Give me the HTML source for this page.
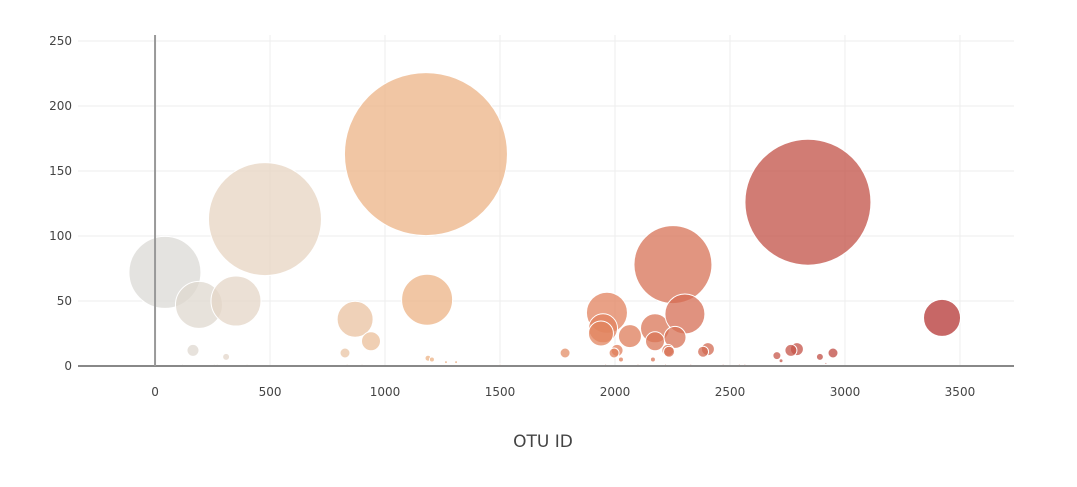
<!DOCTYPE html>
<html><head><meta charset="utf-8"><style>
body{margin:0;background:#fff;}
svg{display:block;font-family:"DejaVu Sans","Liberation Sans",sans-serif;}
</style></head><body>
<svg id="chart" width="1077" height="487">
<g id="grid"></g>
<g id="bubbles"></g>
<g id="axes"></g>
<text x="543" y="447" text-anchor="middle" font-size="17" fill="#444">OTU ID</text>
</svg>
<script>
const otuIds = [43,191,352,478,1178,870,939,1183,165,309,826,1187,1204,1265,1309,1783,1965,1948,1939,2065,2009,1996,2174,2174,2252,2304,2261,2230,2235,2404,2383,2704,2722,2791,2765,2839,2891,2948,2917,3422,2026,2165,120,257,270,400,835,900,1500,1960,2100,2220,2330,2470,2540,2565];
const sampleValues = [72,47,50,113,163,36,19,51,12,7,10,6,5,3,3,10,41,29,25,23,12,10,29,19,78,40,22,12,11,13,11,8,4,13,12,126,7,10,2,37,5,5,1,1,1,1,1,1,1,1,1,1,1,1,1,1];
const xTicks = [0,500,1000,1500,2000,2500,3000,3500];
const yTicks = [0,50,100,150,200,250];
const NS='http://www.w3.org/2000/svg';
const L=78,R=1014,T=35,B=366;
const xMin=-335,xMax=3735,yMin=0,yMax=254.6;
function xs(v){return L+(v-xMin)/(xMax-xMin)*(R-L);}
function ys(v){return B-(v-yMin)/(yMax-yMin)*(B-T);}
const stops=[[0,[218,218,216]],[500,[232,212,192]],[1200,[236,178,132]],[2000,[224,128,92]],[2900,[192,76,68]],[3500,[178,48,48]]];
function color(x){
  for(let i=0;i<stops.length-1;i++){const a=stops[i],b=stops[i+1];
    if(x<=b[0]||i==stops.length-2){let t=Math.max(0,Math.min(1,(x-a[0])/(b[0]-a[0])));
      return 'rgb('+a[1].map((c,k)=>Math.round(c+(b[1][k]-c)*t)).join(',')+')';}}
}
function mk(tag,attrs,parent){const e=document.createElementNS(NS,tag);for(const k in attrs)e.setAttribute(k,attrs[k]);parent.appendChild(e);return e;}
const grid=document.getElementById('grid'),axes=document.getElementById('axes'),bub=document.getElementById('bubbles');
xTicks.forEach(t=>{
  const l=mk('line',{x1:xs(t),x2:xs(t),y1:T,y2:B,stroke:'#eee','stroke-width':1},grid);
  
  
  const tx=mk('text',{x:xs(t),y:396,'text-anchor':'middle','font-size':12,fill:'#444'},axes);
  tx.textContent=t;
  
  
});
yTicks.forEach(t=>{
  const l=mk('line',{x1:L,x2:R,y1:ys(t),y2:ys(t),stroke:'#eee','stroke-width':1},grid);
  
  
  const tx=mk('text',{x:72,y:ys(t)+4,'text-anchor':'end','font-size':12,fill:'#444'},axes);
  tx.textContent=t;
  
  
});
const zx=mk('line',{x1:L,x2:R,y1:ys(0),y2:ys(0),stroke:'#888','stroke-width':2},axes);


const zy=mk('line',{x1:xs(0),x2:xs(0),y1:T,y2:B,stroke:'#999','stroke-width':2},axes);


otuIds.forEach((x,i)=>{
  const v=sampleValues[i];
  const c=mk('circle',{cx:xs(x),cy:ys(v),r:Math.max(v/2,0.8),fill:color(x),'fill-opacity':0.75,stroke:'#fff','stroke-width':1},bub);
  
  
});
</script>
</body></html>
